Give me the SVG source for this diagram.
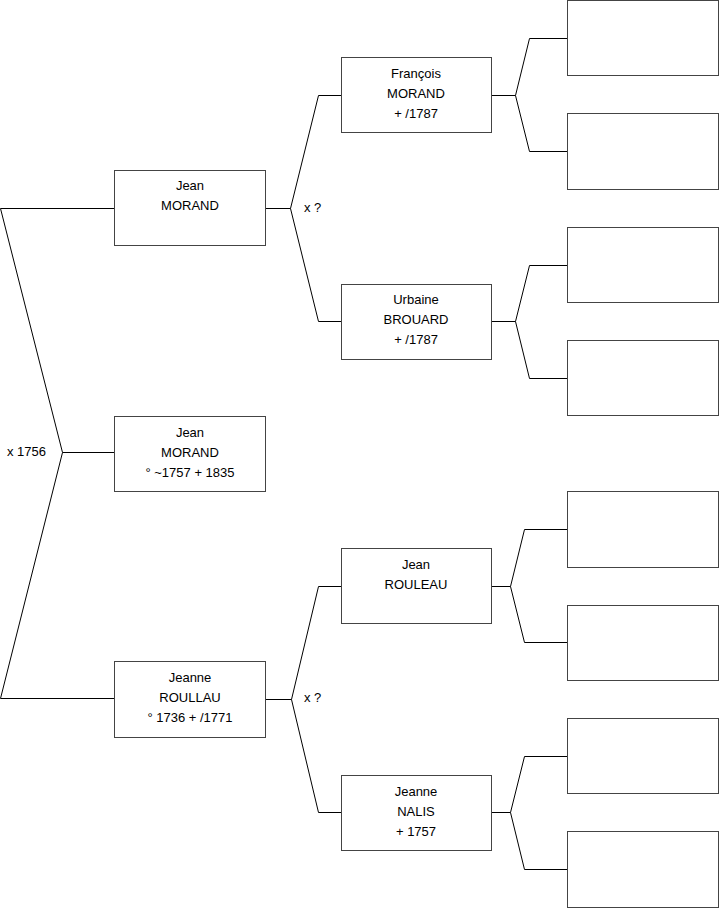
<svg xmlns="http://www.w3.org/2000/svg" width="719" height="908" viewBox="0 0 719 908">
<style>
rect.box{fill:#fff;stroke:#444;stroke-width:1}
.con path{fill:none;stroke:#000;stroke-width:1}
text{font-family:"Liberation Sans",Arial,sans-serif;font-size:13px;fill:#000}
.c{text-anchor:middle}
</style>
<rect width="719" height="908" fill="#fff"/>
<g class="con" id="connectors">
<path d="M114.5,208.5 H0.5 L62.5,452.5 L0.5,698.5 H114.5 M62.5,452.5 H114.5"/>
<path d="M265,208.5 H290.5 L318.5,95.5 H341 M290.5,208.5 L318.5,321.5 H341"/>
<path d="M265,699.5 H291.5 L318.5,586.5 H341 M291.5,699.5 L318.5,812.5 H341"/>
<path d="M491,95.5 H515.5 L529.5,38.5 H567 M515.5,95.5 L529.5,151.5 H567"/>
<path d="M491,321.5 H515.5 L529.5,265.5 H567 M515.5,321.5 L529.5,378.5 H567"/>
<path d="M491,586.5 H510.5 L524.5,529.5 H567 M510.5,586.5 L524.5,642.5 H567"/>
<path d="M491,812.5 H510.5 L524.5,756.5 H567 M510.5,812.5 L524.5,869.5 H567"/>
</g>
<g id="labels">
<text x="7" y="456">x 1756</text>
<text x="304" y="212">x ?</text>
<text x="304" y="702">x ?</text>
</g>
<g id="jean-morand-pere">
<rect class="box" x="114.5" y="170.5" width="151" height="75"/>
<text class="c" x="190" y="190">Jean</text>
<text class="c" x="190" y="210">MORAND</text>
</g>
<g id="jean-morand">
<rect class="box" x="114.5" y="416.5" width="151" height="75"/>
<text class="c" x="190" y="437">Jean</text>
<text class="c" x="190" y="457">MORAND</text>
<text class="c" x="190" y="477">° ~1757 + 1835</text>
</g>
<g id="jeanne-roullau">
<rect class="box" x="114.5" y="661.5" width="151" height="76"/>
<text class="c" x="190" y="682">Jeanne</text>
<text class="c" x="190" y="702">ROULLAU</text>
<text class="c" x="190" y="722">° 1736 + /1771</text>
</g>
<g id="francois-morand">
<rect class="box" x="341.5" y="57.5" width="150" height="75"/>
<text class="c" x="416" y="78">François</text>
<text class="c" x="416" y="98">MORAND</text>
<text class="c" x="416" y="118"> + /1787</text>
</g>
<g id="urbaine-brouard">
<rect class="box" x="341.5" y="284.5" width="150" height="75"/>
<text class="c" x="416" y="304">Urbaine</text>
<text class="c" x="416" y="324">BROUARD</text>
<text class="c" x="416" y="344"> + /1787</text>
</g>
<g id="jean-rouleau">
<rect class="box" x="341.5" y="548.5" width="150" height="75"/>
<text class="c" x="416" y="569">Jean</text>
<text class="c" x="416" y="589">ROULEAU</text>
</g>
<g id="jeanne-nalis">
<rect class="box" x="341.5" y="775.5" width="150" height="75"/>
<text class="c" x="416" y="796">Jeanne</text>
<text class="c" x="416" y="816">NALIS</text>
<text class="c" x="416" y="836"> + 1757</text>
</g>
<g id="ancestor-1"><rect class="box" x="567.5" y="0.5" width="151" height="75"/></g>
<g id="ancestor-2"><rect class="box" x="567.5" y="113.5" width="151" height="76"/></g>
<g id="ancestor-3"><rect class="box" x="567.5" y="227.5" width="151" height="75"/></g>
<g id="ancestor-4"><rect class="box" x="567.5" y="340.5" width="151" height="75"/></g>
<g id="ancestor-5"><rect class="box" x="567.5" y="491.5" width="151" height="76"/></g>
<g id="ancestor-6"><rect class="box" x="567.5" y="605.5" width="151" height="75"/></g>
<g id="ancestor-7"><rect class="box" x="567.5" y="718.5" width="151" height="75"/></g>
<g id="ancestor-8"><rect class="box" x="567.5" y="831.5" width="151" height="76"/></g>
</svg>
